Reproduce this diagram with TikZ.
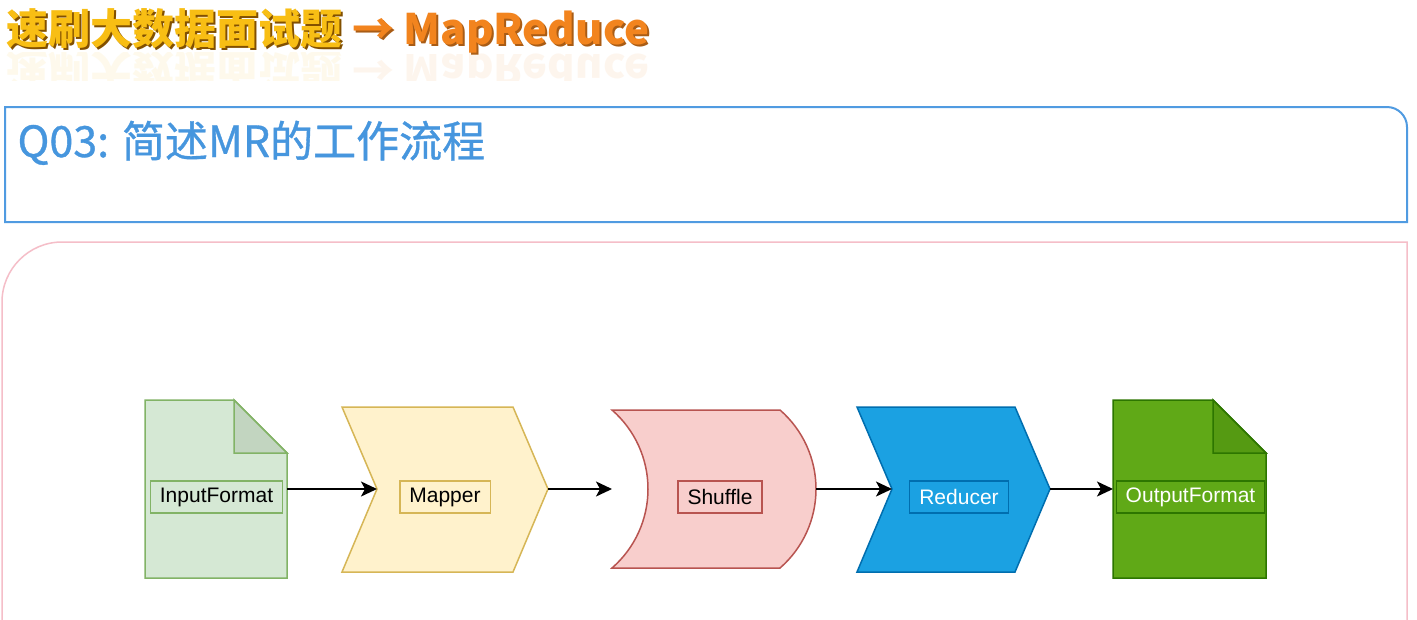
\documentclass[tikz,border=0pt]{standalone}
\usepackage{fontspec}
\setmainfont{Liberation Sans}
\newfontfamily\cjk{Noto Sans CJK SC}
\newfontfamily\qfont[FakeBold=0.8]{Noto Sans CJK SC}
\usetikzlibrary{arrows.meta,positioning}
\definecolor{titlegold}{RGB}{248,190,20}
\definecolor{titleshadow}{RGB}{130,80,0}
\definecolor{titleorange}{RGB}{242,132,30}
\definecolor{qblue}{RGB}{70,150,222}
\definecolor{frameblue}{RGB}{80,155,225}
\definecolor{framepink}{RGB}{245,190,200}
\definecolor{inFill}{HTML}{D5E8D4}
\definecolor{inLine}{HTML}{82B366}
\definecolor{inFold}{HTML}{C2D5C0}
\definecolor{mapFill}{HTML}{FFF2CC}
\definecolor{mapLine}{HTML}{D6B656}
\definecolor{shufFill}{HTML}{F8CECC}
\definecolor{shufLine}{HTML}{B85450}
\definecolor{redFill}{HTML}{1BA1E2}
\definecolor{redLine}{HTML}{006EAF}
\definecolor{outFill}{HTML}{60A917}
\definecolor{outLine}{HTML}{2D7600}
\definecolor{outFold}{HTML}{559A12}

\tikzset{
  lbl/.style={draw, line width=1.2pt, inner xsep=9.5pt, inner ysep=0pt,
    minimum height=32pt, font=\fontsize{21}{25}\selectfont},
  stage/.style={line width=1.5pt, line join=miter},
  flow/.style={-{Stealth[length=16pt,width=15pt,inset=4pt]}, line width=1.8pt, black}
}

\begin{document}
\begin{tikzpicture}[x=1pt, y=-1pt]
    \useasboundingbox (0,0) rectangle (1417,619);
    \fill[white] (0,0) rectangle (1417,619);

    % Titre
    \node[anchor=base west, font=\cjk\bfseries\fontsize{42}{50}\selectfont, text=titleshadow]
        at (5,46) {速刷大数据面试题 \textcolor{titleorange!70!black}{→ MapReduce}};
    \node[anchor=base west, font=\cjk\bfseries\fontsize{42}{50}\selectfont, text=titlegold]
        (title) at (3,44) {速刷大数据面试题 \textcolor{titleorange}{→ MapReduce}};
    \begin{scope}
        \clip (0,52) rectangle (700,80);
        \node[anchor=base west, font=\cjk\bfseries\fontsize{42}{50}\selectfont, text=titlegold,
            opacity=0.08, yscale=-1] at (3,54) {速刷大数据面试题 \textcolor{titleorange}{→ MapReduce}};
    \end{scope}

    % Cadre question
    \draw[frameblue, line width=2pt] (5,222) -- (5,107) -- (1387,107)
        .. controls (1398,107) and (1407,116) .. (1407,127) -- (1407,222) -- cycle;
    \node[anchor=base west, font=\qfont\fontsize{43}{50}\selectfont, text=qblue]
        (question) at (14,157) {Q03: 简述MR的工作流程};

    % Cadre diagramme
    \draw[framepink, line width=1.5pt] (2,640) -- (2,302)
        .. controls (2,269) and (29,242) .. (62,242) -- (1407,242) -- (1407,640);

    % InputFormat
    \filldraw[stage, fill=inFill, draw=inLine] (145,400) -- (234,400) -- (287,453)
        -- (287,578) -- (145,578) -- cycle;
    \filldraw[stage, fill=inFold, draw=inLine] (234,400) -- (234,453) -- (287,453) -- cycle;
    \node[lbl, fill=inFill, draw=inLine] (input) at (216.5,497) {InputFormat};
    \coordinate (input-out) at (287,489);

    % Mapper
    \filldraw[stage, fill=mapFill, draw=mapLine] (342,407) -- (513,407) -- (548,489)
        -- (513,572) -- (342,572) -- (377,489) -- cycle;
    \node[lbl, fill=mapFill, draw=mapLine] (mapper) at (445,497) {Mapper};
    \coordinate (mapper-in) at (377,489);
    \coordinate (mapper-out) at (548,489);

    % Shuffle
    \filldraw[stage, fill=shufFill, draw=shufLine] (612,410) -- (780,410)
        .. controls (802.9,429.9) and (816,458.7) .. (816,489)
        .. controls (816,519.3) and (802.9,548.1) .. (780,568)
        -- (612,568)
        .. controls (634.9,548.1) and (648,519.3) .. (648,489)
        .. controls (648,458.7) and (634.9,429.9) .. (612,410) -- cycle;
    \node[lbl, fill=shufFill, draw=shufLine] (shuffle) at (720,497) {Shuffle};
    \coordinate (shuffle-in) at (612,489);
    \coordinate (shuffle-out) at (816,489);

    % Reducer
    \filldraw[stage, fill=redFill, draw=redLine] (857,407) -- (1015,407) -- (1050,489)
        -- (1015,572) -- (857,572) -- (892,489) -- cycle;
    \node[lbl, fill=redFill, draw=redLine, text=white] (reducer) at (959,497) {Reducer};
    \coordinate (reducer-in) at (892,489);
    \coordinate (reducer-out) at (1050,489);

    % OutputFormat
    \filldraw[stage, fill=outFill, draw=outLine] (1113,400) -- (1213,400) -- (1266,453)
        -- (1266,578) -- (1113,578) -- cycle;
    \filldraw[stage, fill=outFold, draw=outLine] (1213,400) -- (1213,453) -- (1266,453) -- cycle;
    \node[lbl, fill=outFill, draw=outLine, text=white] (output) at (1190.5,497) {OutputFormat};
    \coordinate (output-in) at (1113,489);

    % Fleches
    \draw[flow] (input-out) -- (mapper-in);
    \draw[flow] (mapper-out) -- (shuffle-in);
    \draw[flow] (shuffle-out) -- (reducer-in);
    \draw[flow] (reducer-out) -- (output-in);

\end{tikzpicture}
\end{document}
